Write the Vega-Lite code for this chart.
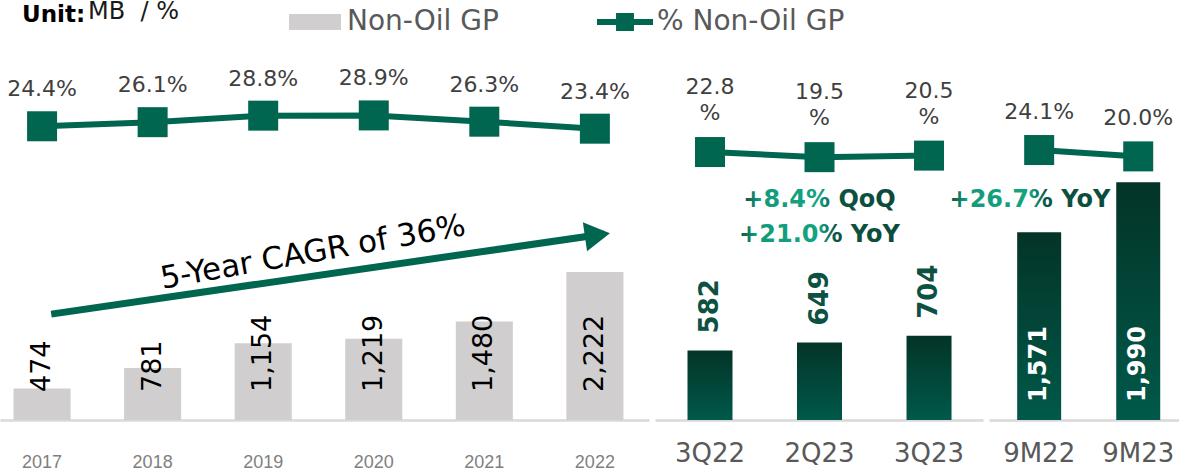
{
  "$schema": "https://vega.github.io/schema/vega-lite/v6.json",
  "padding": 0,
  "background": "white",
  "spacing": 6,
  "bounds": "flush",
  "config": {"view": {"stroke": null}, "font": "DejaVu Sans", "axis": {"grid": false}},
  "hconcat": [
    {
      "width": 649,
      "height": 380,
      "data": {"values": [
        {"period": "2017", "gp": 474, "pct": 24.4, "lbl": "24.4%"},
        {"period": "2018", "gp": 781, "pct": 26.1, "lbl": "26.1%"},
        {"period": "2019", "gp": 1154, "pct": 28.8, "lbl": "28.8%"},
        {"period": "2020", "gp": 1219, "pct": 28.9, "lbl": "28.9%"},
        {"period": "2021", "gp": 1480, "pct": 26.3, "lbl": "26.3%"},
        {"period": "2022", "gp": 2222, "pct": 23.4, "lbl": "23.4%"}
      ]},
      "encoding": {
        "x": {"field": "period", "type": "nominal", "title": null,
          "scale": {"domain": ["2017", "2018", "2019", "2020", "2021", "2022"], "paddingInner": 0.484, "paddingOuter": 0.177, "align": 0.346},
          "axis": {"domainColor": "#d9d9d9", "domainWidth": 2.5, "ticks": false, "labelAngle": 0, "labelFont": "Liberation Sans", "labelFontSize": 18, "labelColor": "#7f7f7f", "labelPadding": 33}}
      },
      "layer": [
        {
          "mark": {"type": "bar"},
          "encoding": {
            "y": {"field": "gp", "type": "quantitative", "scale": {"domain": [0, 5705]}, "axis": null},
            "color": {"datum": "Non-Oil GP", "type": "nominal",
              "scale": {"domain": ["Non-Oil GP", "% Non-Oil GP"], "range": ["#d0cece", "#00664f"]},
              "legend": {"orient": "none", "legendX": 299, "legendY": -34, "direction": "horizontal", "title": null,
                "symbolSize": 1024, "symbolStrokeWidth": 0, "labelFont": "DejaVu Sans", "labelFontSize": 28,
                "labelColor": "#595959", "labelLimit": 400, "labelOffset": 16, "columnPadding": 98,
                "encode": {"symbols": {"update": {"shape": {"signal": "datum.value === 'Non-Oil GP' ? 'M-1.625,-0.5H1.625V0.5H-1.625Z' : 'M-1.75,-0.19H-0.56V-0.56H0.56V-0.19H1.75V0.19H0.56V0.56H-0.56V0.19H-1.75Z'"}}}}}}
          }
        },
        {
          "mark": {"type": "text", "angle": -90, "align": "left", "baseline": "middle", "dx": 28, "fontSize": 27, "color": "#000000", "font": "DejaVu Sans"},
          "encoding": {
            "y": {"datum": 0, "type": "quantitative", "scale": {"domain": [0, 5705]}, "axis": null},
            "text": {"field": "gp", "type": "quantitative", "format": ","}
          }
        },
        {
          "mark": {"type": "line", "color": "#00664f", "strokeWidth": 6},
          "encoding": {"y": {"field": "pct", "type": "quantitative", "scale": {"domain": [-97.5, 60.2]}, "axis": null}}
        },
        {
          "mark": {"type": "point", "filled": true, "size": 900, "color": "#00664f", "opacity": 1},
          "encoding": {
            "y": {"field": "pct", "type": "quantitative", "scale": {"domain": [-97.5, 60.2]}, "axis": null},
            "shape": {"datum": "MB\u00a0 / %", "type": "nominal", "scale": {"range": ["square"]},
              "legend": {"orient": "none", "legendX": 22, "legendY": -40, "title": "Unit:", "titleOrient": "left",
                "titleAnchor": "start", "titleFont": "DejaVu Sans", "titleFontSize": 23, "titleFontWeight": "bold", "titleColor": "#000000",
                "titleBaseline": "line-top", "titleLineHeight": 30, "titlePadding": -24, "symbolSize": 9, "symbolOpacity": 0,
                "labelFont": "DejaVu Sans", "labelFontSize": 24, "labelColor": "#1a1a1a", "labelOffset": 2,
                "labelBaseline": "middle"}}
          }
        },
        {
          "mark": {"type": "text", "baseline": "bottom", "dy": -25, "fontSize": 22, "color": "#404040", "font": "DejaVu Sans"},
          "encoding": {
            "y": {"field": "pct", "type": "quantitative", "scale": {"domain": [-97.5, 60.2]}, "axis": null},
            "text": {"field": "lbl", "type": "nominal"}
          }
        },
        {
          "data": {"values": [{"period": "2017", "v": 1590}, {"period": "2022", "v": 2793}]},
          "mark": {"type": "line", "color": "#00664f", "strokeWidth": 7, "strokeCap": "butt"},
          "encoding": {
            "x": {"field": "period", "type": "nominal", "bandPosition": 0.66, "title": null,
              "scale": {"domain": ["2017", "2018", "2019", "2020", "2021", "2022"], "paddingInner": 0.484, "paddingOuter": 0.177, "align": 0.346},
              "axis": {"domainColor": "#d9d9d9", "domainWidth": 2.5, "ticks": false, "labelAngle": 0, "labelFont": "Liberation Sans", "labelFontSize": 18, "labelColor": "#7f7f7f", "labelPadding": 33}},
            "y": {"field": "v", "type": "quantitative", "scale": {"domain": [0, 5705]}, "axis": null}
          }
        },
        {
          "data": {"values": [{"period": "2022", "v": 2778}]},
          "mark": {"type": "point", "shape": "triangle-right", "filled": true, "size": 850, "angle": -8.3, "color": "#00664f", "opacity": 1},
          "encoding": {
            "x": {"field": "period", "type": "nominal", "bandPosition": 0.545, "title": null,
              "scale": {"domain": ["2017", "2018", "2019", "2020", "2021", "2022"], "paddingInner": 0.484, "paddingOuter": 0.177, "align": 0.346},
              "axis": {"domainColor": "#d9d9d9", "domainWidth": 2.5, "ticks": false, "labelAngle": 0, "labelFont": "Liberation Sans", "labelFontSize": 18, "labelColor": "#7f7f7f", "labelPadding": 33}},
            "y": {"field": "v", "type": "quantitative", "scale": {"domain": [0, 5705]}, "axis": null}
          }
        },
        {
          "data": {"values": [{"period": "2019", "v": 2508, "t": "5-Year CAGR of 36%"}]},
          "mark": {"type": "text", "angle": -10, "align": "center", "baseline": "middle", "fontSize": 31, "color": "#000000", "font": "DejaVu Sans"},
          "encoding": {
            "x": {"field": "period", "type": "nominal", "bandPosition": 1.374, "title": null,
              "scale": {"domain": ["2017", "2018", "2019", "2020", "2021", "2022"], "paddingInner": 0.484, "paddingOuter": 0.177, "align": 0.346},
              "axis": {"domainColor": "#d9d9d9", "domainWidth": 2.5, "ticks": false, "labelAngle": 0, "labelFont": "Liberation Sans", "labelFontSize": 18, "labelColor": "#7f7f7f", "labelPadding": 33}},
            "y": {"field": "v", "type": "quantitative", "scale": {"domain": [0, 5705]}, "axis": null},
            "text": {"field": "t", "type": "nominal"}
          }
        }
      ],
      "resolve": {"scale": {"y": "independent"}}
    },
    {
      "width": 328,
      "height": 380,
      "data": {"values": [
        {"period": "3Q22", "gp": 582, "pct": 22.8, "lbl": "22.8\n%"},
        {"period": "2Q23", "gp": 649, "pct": 19.5, "lbl": "19.5\n%"},
        {"period": "3Q23", "gp": 704, "pct": 20.5, "lbl": "20.5\n%"}
      ]},
      "encoding": {
        "x": {"field": "period", "type": "nominal", "title": null,
          "scale": {"domain": ["3Q22", "2Q23", "3Q23"], "paddingInner": 0.589, "paddingOuter": 0.292, "align": 0.508},
          "axis": {"domainColor": "#d9d9d9", "domainWidth": 2.5, "ticks": false, "labelAngle": 0, "labelFont": "DejaVu Sans", "labelFontSize": 26, "labelColor": "#595959", "labelPadding": 20}}
      },
      "layer": [
        {
          "mark": {"type": "bar", "color": {"gradient": "linear", "x1": 0, "y1": 0, "x2": 0, "y2": 1, "stops": [{"offset": 0, "color": "#033427"}, {"offset": 1, "color": "#00594a"}]}},
          "encoding": {"y": {"field": "gp", "type": "quantitative", "scale": {"domain": [0, 3180]}, "axis": null}}
        },
        {
          "mark": {"type": "text", "angle": -90, "align": "left", "baseline": "middle", "dx": 17, "fontSize": 26, "fontWeight": "bold", "color": "#0c5141", "font": "DejaVu Sans"},
          "encoding": {
            "y": {"field": "gp", "type": "quantitative", "scale": {"domain": [0, 3180]}, "axis": null},
            "text": {"field": "gp", "type": "quantitative", "format": ","}
          }
        },
        {
          "mark": {"type": "line", "color": "#00664f", "strokeWidth": 6},
          "encoding": {"y": {"field": "pct", "type": "quantitative", "scale": {"domain": [-150.1, 95.1]}, "axis": null}}
        },
        {
          "mark": {"type": "point", "shape": "square", "filled": true, "size": 900, "color": "#00664f", "opacity": 1},
          "encoding": {"y": {"field": "pct", "type": "quantitative", "scale": {"domain": [-150.1, 95.1]}, "axis": null}}
        },
        {
          "mark": {"type": "text", "baseline": "bottom", "dy": -53, "fontSize": 22, "lineBreak": "\n", "lineHeight": 26, "color": "#404040", "font": "DejaVu Sans"},
          "encoding": {
            "y": {"field": "pct", "type": "quantitative", "scale": {"domain": [-150.1, 95.1]}, "axis": null},
            "text": {"field": "lbl", "type": "nominal"}
          }
        },
        {
          "data": {"values": [
            {"period": "2Q23", "v": 1841, "t": "+8.4% QoQ"},
            {"period": "2Q23", "v": 1548, "t": "+21.0% YoY"}
          ]},
          "mark": {"type": "text", "align": "center", "baseline": "middle", "fontSize": 24, "fontWeight": "bold", "font": "DejaVu Sans",
            "color": {"gradient": "linear", "x1": 0, "y1": 0, "x2": 1, "y2": 0, "stops": [{"offset": 0, "color": "#0b4d3c"}, {"offset": 0.1, "color": "#129a79"}, {"offset": 0.5, "color": "#14a380"}, {"offset": 0.6, "color": "#0c5444"}, {"offset": 1, "color": "#0b4a3a"}]}},
          "encoding": {
            "y": {"field": "v", "type": "quantitative", "scale": {"domain": [0, 3180]}, "axis": null},
            "text": {"field": "t", "type": "nominal"}
          }
        }
      ],
      "resolve": {"scale": {"y": "independent"}}
    },
    {
      "width": 190,
      "height": 380,
      "data": {"values": [
        {"period": "9M22", "gp": 1571, "pct": 24.1, "lbl": "24.1%"},
        {"period": "9M23", "gp": 1990, "pct": 20.0, "lbl": "20.0%"}
      ]},
      "encoding": {
        "x": {"field": "period", "type": "nominal", "title": null,
          "scale": {"domain": ["9M22", "9M23"], "paddingInner": 0.556, "paddingOuter": 0.237, "align": 0.6},
          "axis": {"domainColor": "#d9d9d9", "domainWidth": 2.5, "ticks": false, "labelAngle": 0, "labelFont": "DejaVu Sans", "labelFontSize": 26, "labelColor": "#595959", "labelPadding": 20}}
      },
      "layer": [
        {
          "mark": {"type": "bar", "color": {"gradient": "linear", "x1": 0, "y1": 0, "x2": 0, "y2": 1, "stops": [{"offset": 0, "color": "#033427"}, {"offset": 1, "color": "#00594a"}]}},
          "encoding": {"y": {"field": "gp", "type": "quantitative", "scale": {"domain": [0, 3180]}, "axis": null}}
        },
        {
          "mark": {"type": "text", "angle": -90, "align": "left", "baseline": "middle", "dx": 18, "fontSize": 24, "fontWeight": "bold", "color": "#ffffff", "font": "DejaVu Sans"},
          "encoding": {
            "y": {"datum": 0, "type": "quantitative", "scale": {"domain": [0, 3180]}, "axis": null},
            "text": {"field": "gp", "type": "quantitative", "format": ","}
          }
        },
        {
          "mark": {"type": "line", "color": "#00664f", "strokeWidth": 6},
          "encoding": {"y": {"field": "pct", "type": "quantitative", "scale": {"domain": [-150.1, 95.1]}, "axis": null}}
        },
        {
          "mark": {"type": "point", "shape": "square", "filled": true, "size": 900, "color": "#00664f", "opacity": 1},
          "encoding": {"y": {"field": "pct", "type": "quantitative", "scale": {"domain": [-150.1, 95.1]}, "axis": null}}
        },
        {
          "mark": {"type": "text", "baseline": "bottom", "dy": -26, "fontSize": 22, "color": "#404040", "font": "DejaVu Sans"},
          "encoding": {
            "y": {"field": "pct", "type": "quantitative", "scale": {"domain": [-150.1, 95.1]}, "axis": null},
            "text": {"field": "lbl", "type": "nominal"}
          }
        },
        {
          "data": {"values": [{"period": "9M22", "v": 1841, "t": "+26.7% YoY"}]},
          "mark": {"type": "text", "align": "center", "baseline": "middle", "fontSize": 24, "fontWeight": "bold", "font": "DejaVu Sans",
            "color": {"gradient": "linear", "x1": 0, "y1": 0, "x2": 1, "y2": 0, "stops": [{"offset": 0, "color": "#0b4d3c"}, {"offset": 0.1, "color": "#129a79"}, {"offset": 0.5, "color": "#14a380"}, {"offset": 0.6, "color": "#0c5444"}, {"offset": 1, "color": "#0b4a3a"}]}},
          "encoding": {
            "x": {"field": "period", "type": "nominal", "bandPosition": 0.29, "title": null,
              "scale": {"domain": ["9M22", "9M23"], "paddingInner": 0.556, "paddingOuter": 0.237, "align": 0.6},
              "axis": {"domainColor": "#d9d9d9", "domainWidth": 2.5, "ticks": false, "labelAngle": 0, "labelFont": "DejaVu Sans", "labelFontSize": 26, "labelColor": "#595959", "labelPadding": 20}},
            "y": {"field": "v", "type": "quantitative", "scale": {"domain": [0, 3180]}, "axis": null},
            "text": {"field": "t", "type": "nominal"}
          }
        }
      ],
      "resolve": {"scale": {"y": "independent"}}
    }
  ]
}
